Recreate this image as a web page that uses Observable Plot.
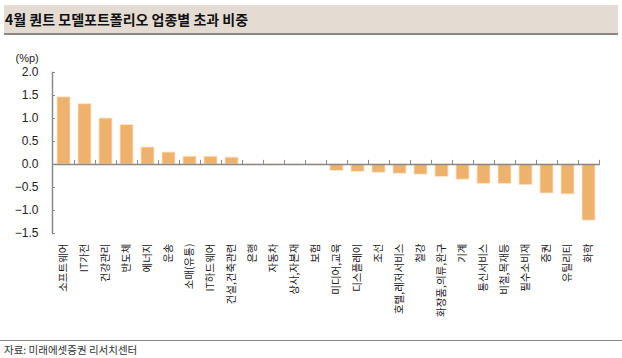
<!DOCTYPE html>
<html>
<head>
<meta charset="utf-8">
<script src="https://cdn.jsdelivr.net/npm/d3@7"></script>
<script src="https://cdn.jsdelivr.net/npm/@observablehq/plot@0.6"></script>
<style>
  html, body { margin: 0; padding: 0; background: #fff; }
  body { width: 622px; height: 358px; position: relative; overflow: hidden; font-family: "Noto Sans CJK KR", sans-serif; }
  #title { position: absolute; left: 4px; top: 5px; width: 613px; height: 28px; background: #e4dcd3; border-bottom: 2px solid #888; box-sizing: content-box; font-weight: bold; font-size: 14px; line-height: 28px; padding-left: 1px; color: #111; z-index: 2; }
  #chart { position: absolute; left: 0; top: 0; }
  #footline { position: absolute; left: 0; top: 340px; width: 622px; height: 0; border-top: 1px solid #888; }
  #source { position: absolute; left: 4px; top: 342px; font-size: 10.5px; line-height: 16px; color: #333; }
</style>
</head>
<body>
<div id="title">4월 퀀트 모델포트폴리오 업종별 초과 비중</div>
<div id="chart"></div>
<div id="footline"></div>
<div id="source">자료: 미래에셋증권 리서치센터</div>
<script>
const categories = ["소프트웨어","IT가전","건강관리","반도체","에너지","운송","소매(유통)","IT하드웨어","건설,건축관련","은행","자동차","상사,자본재","보험","미디어,교육","디스플레이","조선","호텔,레저서비스","철강","화장품,의류,완구","기계","통신서비스","비철,목재등","필수소비재","증권","유틸리티","화학"];
const values = [1.46, 1.31, 1.00, 0.86, 0.37, 0.26, 0.17, 0.17, 0.15, -0.02, -0.02, -0.02, -0.02, -0.14, -0.16, -0.18, -0.20, -0.22, -0.27, -0.33, -0.42, -0.42, -0.45, -0.63, -0.65, -1.22];
const yTicks = [-1.5, -1.0, -0.5, 0.0, 0.5, 1.0, 1.5, 2.0];
const unitLabel = "(%p)";

const data = categories.map((c, i) => ({category: c, value: values[i]}));

const W = 622, H = 340, ML = 52, MR = 22, MT = 72, MB = 107;
const step = (W - ML - MR) / categories.length;
const gray = "#888";
const fmt = d => d.toFixed(1).replace("-", "\u2212");

const chart = Plot.plot({
  width: W,
  height: H,
  marginLeft: ML,
  marginRight: MR,
  marginTop: MT,
  marginBottom: MB,
  style: {fontFamily: "'Liberation Sans', Arial, sans-serif", background: "transparent", overflow: "visible"},
  x: {domain: categories, paddingInner: 0.38, paddingOuter: 0.19, label: null},
  y: {domain: [-1.5, 2.0], label: null},
  marks: [
    Plot.barY(data, {x: "category", y: "value", fill: "#efb26c", stroke: "#fbe6cc", strokeWidth: 0.8}),
    Plot.ruleY([0], {stroke: gray, strokeWidth: 1.5}),
    Plot.ruleX(categories, {x: d => d, y1: 0, y2: 0.09, dx: step / 2, stroke: gray, strokeWidth: 1}),
    Plot.frame({anchor: "left", stroke: gray, strokeWidth: 1.5}),
    Plot.axisY({ticks: yTicks, tickSize: 3, dx: 3, text: null, stroke: gray, label: null}),
    Plot.axisY({ticks: yTicks, tickSize: 0, tickPadding: 14, tickFormat: fmt, fontSize: 12, fill: "#222", label: null}),
    Plot.axisX({anchor: "bottom", tickSize: 0, tickPadding: 10, tickRotate: -90, textAnchor: "end", fontSize: 10.5, fill: "#222", fontFamily: "'Noto Sans CJK KR', sans-serif", label: null}),
    Plot.text([unitLabel], {frameAnchor: "top-left", dx: -37, dy: -11, textAnchor: "start", lineAnchor: "bottom", fontSize: 11, fill: "#222"})
  ]
});
document.getElementById("chart").appendChild(chart);
</script>
</body>
</html>
